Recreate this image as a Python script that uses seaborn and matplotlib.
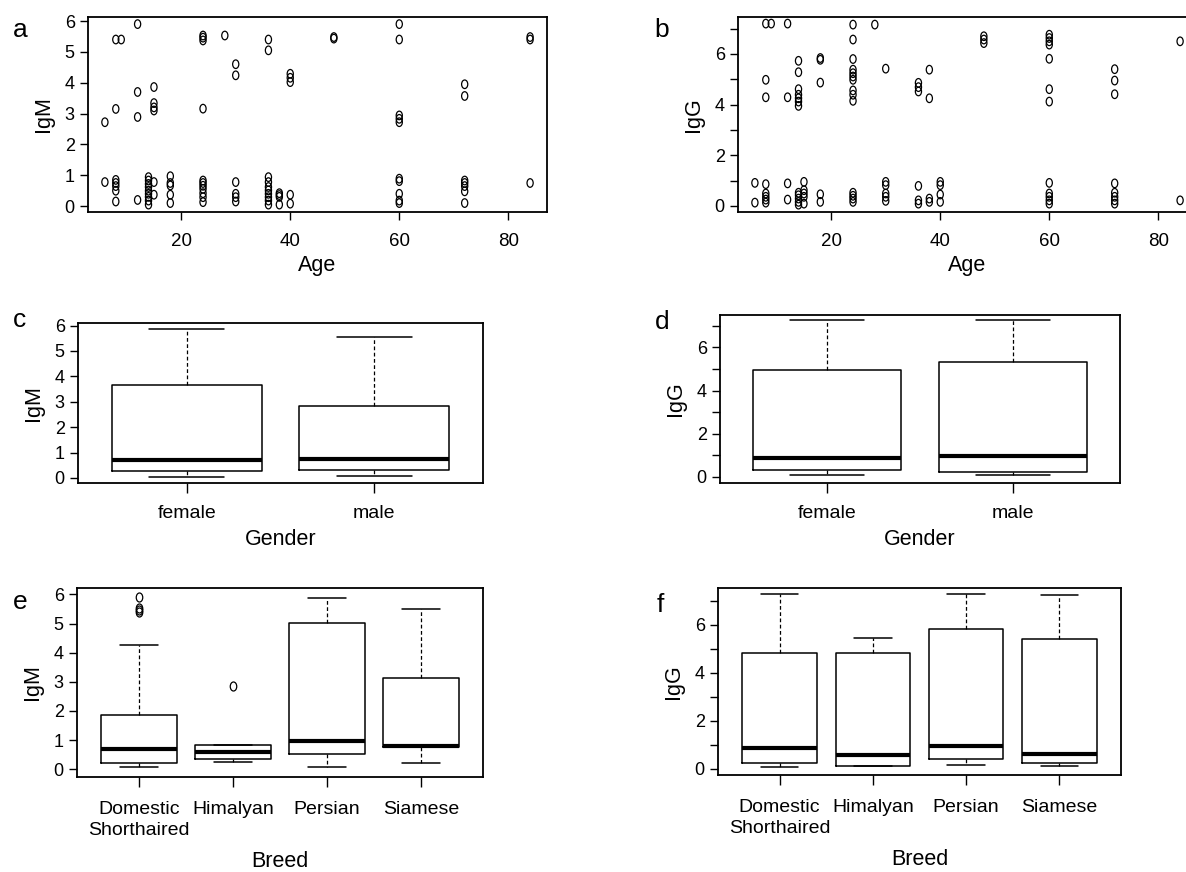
import matplotlib
matplotlib.use("Agg")
import matplotlib.pyplot as plt
import seaborn as sns
import pandas as pd
from matplotlib.path import Path
from matplotlib.transforms import Affine2D

# Panel a: IgM by age (one entry per cat)
a_age = [6, 6,
         8, 8, 8, 8, 8, 8, 8,
         9,
         12, 12, 12, 12,
         14, 14, 14, 14, 14, 14, 14, 14, 14,
         15, 15, 15, 15, 15, 15,
         18, 18, 18, 18, 18,
         24, 24, 24, 24, 24, 24, 24, 24, 24, 24, 24,
         28,
         30, 30, 30, 30, 30, 30,
         36, 36, 36, 36, 36, 36, 36, 36, 36, 36,
         38, 38, 38, 38,
         40, 40, 40, 40, 40,
         48, 48,
         60, 60, 60, 60, 60, 60, 60, 60, 60, 60,
         72, 72, 72, 72, 72, 72, 72,
         84, 84, 84]
a_igm = [2.72, 0.78,
         5.4, 3.15, 0.85, 0.75, 0.65, 0.5, 0.15,
         5.4,
         5.9, 3.7, 2.89, 0.2,
         0.94, 0.83, 0.72, 0.62, 0.5, 0.4, 0.3, 0.18, 0.05,
         3.86, 3.34, 3.2, 3.1, 0.78, 0.37,
         0.97, 0.75, 0.67, 0.37, 0.1,
         5.53, 5.46, 5.37, 3.16, 0.83, 0.75, 0.66, 0.56, 0.42, 0.29, 0.13,
         5.53,
         4.6, 4.24, 0.78, 0.4, 0.29, 0.15,
         5.4, 5.05, 0.94, 0.78, 0.62, 0.51, 0.4, 0.29, 0.18, 0.05,
         0.42, 0.36, 0.3, 0.05,
         4.29, 4.16, 4.02, 0.37, 0.08,
         5.48, 5.43,
         5.9, 5.4, 2.94, 2.83, 2.72, 0.89, 0.81, 0.4, 0.18, 0.1,
         3.95, 3.57, 0.83, 0.75, 0.65, 0.48, 0.1,
         5.48, 5.4, 0.75]

# Panel b: IgG by age
b_age = [6, 6,
         8, 8, 8, 8, 8, 8, 8, 8,
         9,
         12, 12, 12, 12,
         14, 14, 14, 14, 14, 14, 14, 14, 14, 14, 14, 14,
         15, 15, 15, 15, 15,
         18, 18, 18, 18, 18,
         24, 24, 24, 24, 24, 24, 24, 24, 24, 24, 24, 24, 24, 24,
         28,
         30, 30, 30, 30, 30, 30,
         36, 36, 36, 36, 36, 36,
         38, 38, 38, 38,
         40, 40, 40, 40,
         48, 48, 48,
         60, 60, 60, 60, 60, 60, 60, 60, 60, 60, 60, 60,
         72, 72, 72, 72, 72, 72, 72, 72,
         84, 84]
b_igg = [0.91, 0.13,
         7.2, 4.98, 4.29, 0.86, 0.49, 0.36, 0.25, 0.13,
         7.2,
         7.2, 4.29, 0.89, 0.25,
         5.73, 5.28, 4.61, 4.39, 4.25, 4.12, 3.95, 0.52, 0.42, 0.29, 0.16, 0.05,
         0.95, 0.62, 0.49, 0.36, 0.09,
         5.84, 5.77, 4.87, 0.46, 0.16,
         7.16, 6.57, 5.8, 5.38, 5.24, 5.11, 4.98, 4.56, 4.39, 4.15, 0.52, 0.4, 0.29, 0.16,
         7.16,
         5.42, 0.95, 0.82, 0.49, 0.36, 0.2,
         4.86, 4.69, 4.52, 0.79, 0.22, 0.09,
         5.38, 4.25, 0.29, 0.16,
         0.95, 0.82, 0.45, 0.16,
         6.7, 6.57, 6.43,
         6.76, 6.63, 6.5, 6.37, 5.81, 4.61, 4.12, 0.91, 0.49, 0.36, 0.22, 0.09,
         5.4, 4.95, 4.41, 0.89, 0.52, 0.36, 0.22, 0.09,
         6.5, 0.22]

# Box summaries
gender = ["female", "male"]
c_low = [0.04, 0.06]
c_q1 = [0.27, 0.31]
c_med = [0.71, 0.75]
c_q3 = [3.65, 2.82]
c_high = [5.88, 5.53]

d_low = [0.08, 0.08]
d_q1 = [0.31, 0.25]
d_med = [0.87, 0.95]
d_q3 = [4.93, 5.32]
d_high = [7.27, 7.27]

breed = ["Domestic\nShorthaired", "Himalyan", "Persian", "Siamese"]
e_low = [0.06, 0.25, 0.06, 0.21]
e_q1 = [0.21, 0.34, 0.53, 0.75]
e_med = [0.70, 0.59, 0.96, 0.79]
e_q3 = [1.85, 0.84, 5.01, 3.14]
e_high = [4.25, 0.84, 5.88, 5.51]
e_out = [[5.9, 5.55, 5.47, 5.4], [2.87], [], []]

f_low = [0.07, 0.14, 0.17, 0.14]
f_q1 = [0.26, 0.14, 0.40, 0.26]
f_med = [0.86, 0.58, 0.97, 0.62]
f_q3 = [4.82, 4.82, 5.83, 5.40]
f_high = [7.28, 5.47, 7.28, 7.22]

sns.set_style("ticks")
plt.rcParams['font.family'] = ['Liberation Sans Narrow', 'Liberation Sans', 'DejaVu Sans']
plt.rcParams.update({"text.color": "black", "axes.labelcolor": "black",
                     "xtick.color": "black", "ytick.color": "black"})

fig = plt.figure(figsize=(11.86, 8.72), dpi=100)

W, H = 1186.0, 872.0
def make_ax(x0, x1, y0, y1):
    return fig.add_axes([x0 / W, 1 - y1 / H, (x1 - x0) / W, (y1 - y0) / H])

# tall open ellipse, like the squashed R circles
ell = Path.unit_circle().transformed(Affine2D().scale(0.72, 1.0))

def style_ax(ax, xpad, ypad):
    for sp in ax.spines.values():
        sp.set_visible(True)
        sp.set_linewidth(1.3)
        sp.set_color("black")
    ax.tick_params(axis="x", length=6, width=1, pad=xpad, labelsize=13.5)
    ax.tick_params(axis="y", length=6, width=1, pad=ypad, labelsize=13)

def scatter_panel(ax, ages, vals, ylab, ylim, yticks, ylabels):
    df = pd.DataFrame({"Age": ages, ylab: vals})
    sns.scatterplot(data=df, x="Age", y=ylab, ax=ax, marker=ell, s=38,
                    facecolors="none", edgecolors="black", linewidths=0.9)
    ax.set_xlim(2.9, 87.1)
    ax.set_ylim(*ylim)
    ax.set_xticks([20, 40, 60, 80])
    ax.set_yticks(yticks)
    ax.set_yticklabels(ylabels)
    style_ax(ax, 9, 3.5)
    ax.set_xlabel("Age", fontsize=15.5, labelpad=4)
    ax.set_ylabel(ylab, fontsize=15.5, labelpad=8)

def box_panel(ax, cats, low, q1, med, q3, high, out, ylab, xlab, ylim, yticks, ylabels, xpad, xlpad):
    stats = []
    for i in range(len(cats)):
        stats.append(dict(whislo=low[i], q1=q1[i], med=med[i], q3=q3[i],
                          whishi=high[i], fliers=out[i] if out else []))
    pos = list(range(1, len(cats) + 1))
    ax.bxp(stats, positions=pos, widths=0.8, capwidths=0.4, showfliers=True,
           boxprops=dict(color="black", linewidth=1.1),
           medianprops=dict(color="black", linewidth=3),
           whiskerprops=dict(color="black", linewidth=0.9, linestyle=(0, (3, 2))),
           capprops=dict(color="black", linewidth=1.1),
           flierprops=dict(marker=ell, markersize=6.5, markerfacecolor="none",
                           markeredgecolor="black", markeredgewidth=0.9))
    n = len(cats)
    ext = 0.04 * n
    ax.set_xlim(0.5 - ext, n + 0.5 + ext)
    ax.set_ylim(*ylim)
    ax.set_xticks(pos)
    ax.set_xticklabels(cats, linespacing=1.3)
    ax.set_yticks(yticks)
    ax.set_yticklabels(ylabels)
    style_ax(ax, xpad, 3.5)
    ax.tick_params(axis="x", labelsize=14, length=7)
    ax.set_xlabel(xlab, fontsize=15.5, labelpad=xlpad)
    ax.set_ylabel(ylab, fontsize=15.5, labelpad=8)

ticks6 = [0, 1, 2, 3, 4, 5, 6]
lab6 = ["0", "1", "2", "3", "4", "5", "6"]
ticks7 = [0, 1, 2, 3, 4, 5, 6, 7]
lab7 = ["0", "", "2", "", "4", "", "6", ""]

ax_a = make_ax(88, 547, 17, 212)
scatter_panel(ax_a, a_age, a_igm, "IgM", (-0.19, 6.13), ticks6, lab6)

ax_b = make_ax(738, 1197, 17, 212)
scatter_panel(ax_b, b_age, b_igg, "IgG", (-0.24, 7.46), ticks7, lab7)

ax_c = make_ax(78, 483, 323, 483)
box_panel(ax_c, gender, c_low, c_q1, c_med, c_q3, c_high, None, "IgM", "Gender",
          (-0.2, 6.1), ticks6, lab6, 9, 5)

ax_d = make_ax(720, 1120, 315, 483)
box_panel(ax_d, gender, d_low, d_q1, d_med, d_q3, d_high, None, "IgG", "Gender",
          (-0.28, 7.5), ticks7, lab7, 9, 5)

ax_e = make_ax(77, 483, 588, 777)
box_panel(ax_e, breed, e_low, e_q1, e_med, e_q3, e_high, e_out, "IgM", "Breed",
          (-0.27, 6.22), ticks6, lab6, 10, 9)

ax_f = make_ax(718, 1121, 588, 775)
box_panel(ax_f, breed, f_low, f_q1, f_med, f_q3, f_high, None, "IgG", "Breed",
          (-0.25, 7.53), ticks7, lab7, 10, 9)

# panel letters
letters = [("a", 20, 30), ("b", 662, 30), ("c", 20, 320), ("d", 662, 322),
           ("e", 20, 602), ("f", 660, 605)]
for txt, x, y in letters:
    fig.text(x / W, 1 - y / H, txt, fontsize=19, ha="center", va="center",
             family=["Liberation Sans", "DejaVu Sans"])

fig.savefig("out.png", dpi=100)
